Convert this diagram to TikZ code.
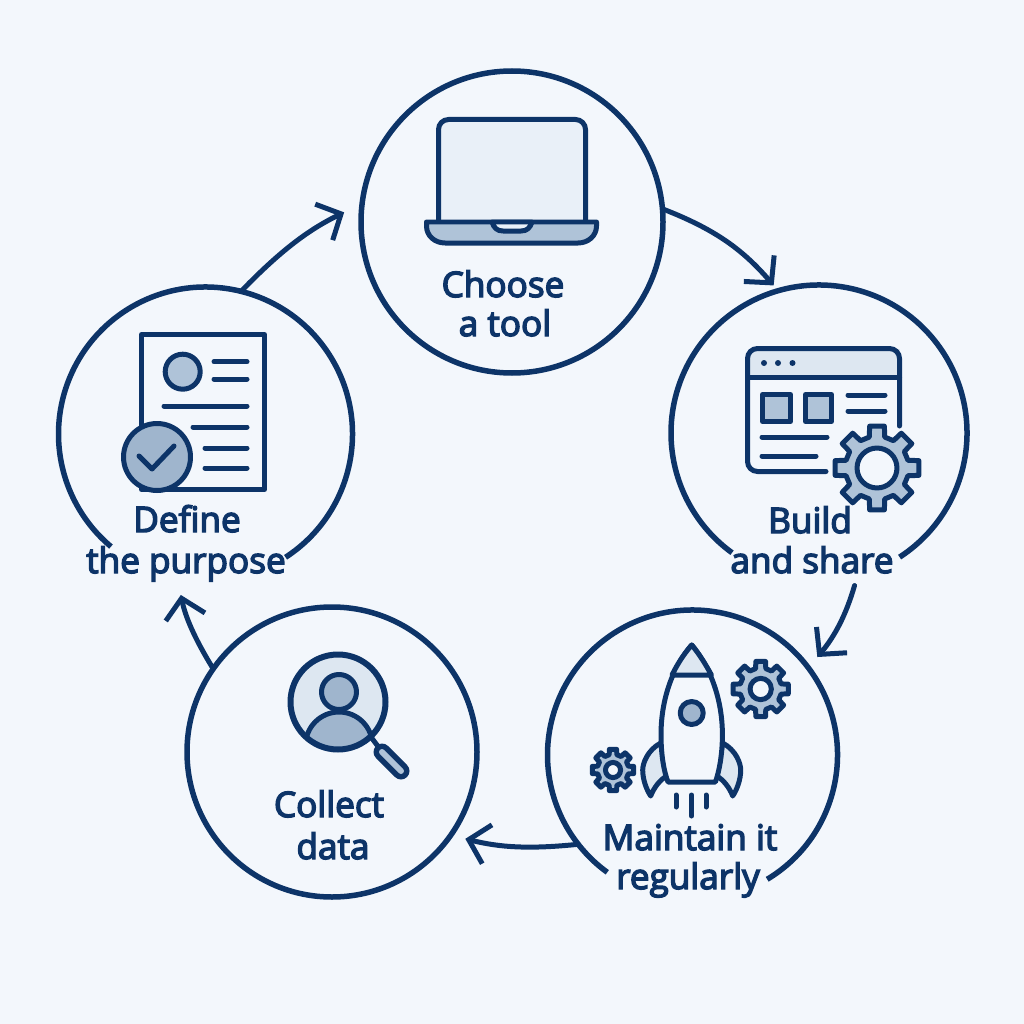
\documentclass[tikz,border=0pt]{standalone}
\usepackage{fontspec}
\setmainfont{Open Sans}[FakeBold=4]
\usetikzlibrary{arrows.meta}

\definecolor{ink}{HTML}{0D3468}
\definecolor{paper}{HTML}{F3F7FC}
\definecolor{midfill}{HTML}{AFC3D8}
\definecolor{palefill}{HTML}{DDE7F1}
\definecolor{screenfill}{HTML}{E9F0F8}

\tikzset{
  ringbase/.style={circle,line width=0.55mm,minimum size=#1,inner sep=0pt,outer sep=0pt},
  ring/.style={ringbase=#1,draw=ink},
  ringarc/.style={draw=ink,line width=0.55mm},
  caption/.style={text=ink,font=\fontsize{10}{12}\selectfont,anchor=base,inner sep=0pt},
  flow/.style={draw=ink,line width=0.5mm,line cap=round,-{Straight Barb[length=1.9mm,width=4mm,line width=0.5mm]}},
  icon/.style={draw=ink,line width=0.5mm,line join=round,line cap=round},
  pics/gearwheel/.style={code={
    \draw[icon,fill=midfill] (-31:.75) \foreach \a in {0,45,...,315} {
      -- (\a-14:.75) -- (\a-10:1) -- (\a+10:1) -- (\a+14:.75)} -- cycle;
    \draw[icon,fill=paper] (0,0) circle (#1);
  }}
}

\begin{document}
\begin{tikzpicture}[x=0.1mm,y=-0.1mm]
\fill[paper] (0,0) rectangle (1024,1024);
\useasboundingbox (0,0) rectangle (1024,1024);

% rings
\node[ring=30.2mm]     (tool)     at (512,222) {};
\node[ringbase=29.6mm] (build)    at (819,433) {};
\node[ringbase=29mm]   (maintain) at (692.5,755) {};
\node[ring=29mm]       (collect)  at (332,752) {};
\node[ringbase=29.4mm] (purpose)  at (205.5,434) {};
\draw[ringarc] (build.-57) arc[start angle=57,end angle=-234,radius=148];
\draw[ringarc] (maintain.-59) arc[start angle=59,end angle=-234,radius=145];
\draw[ringarc] (purpose.-57) arc[start angle=57,end angle=-230,radius=147];

% captions
\node[caption] (tool1) at (503,297) {Choose};
\node[caption] (tool2) at (505,336) {a tool};
\node[caption] (build1) at (810,533) {Build};
\node[caption] (build2) at (812,573) {and share};
\node[caption] (maintain1) at (690,850) {Maintain it};
\node[caption] (maintain2) at (688,889) {regularly};
\node[caption] (collect1) at (329,817) {Collect};
\node[caption] (collect2) at (333,859) {data};
\node[caption] (purpose1) at (187,532) {Define};
\node[caption] (purpose2) at (186,573) {the purpose};

% laptop
\draw[icon,fill=screenfill,rounded corners=1mm] (438.5,222) -- (438.5,119.5) -- (585.5,119.5) -- (585.5,222);
\draw[icon,fill=midfill] (426.5,222) -- (596.5,222) -- (596.5,226) .. controls (596.5,236) and (588,243) .. (578,243)
  -- (445,243) .. controls (435,243) and (426.5,236) .. (426.5,226) -- cycle;
\draw[icon,fill=screenfill] (492,222) .. controls (494,228) and (497,231) .. (503,231) -- (521,231) .. controls (527,231) and (530,228) .. (532,222) -- cycle;

% browser window
\fill[palefill] (747.5,348.5) rectangle (899.5,377);
\draw[icon,rounded corners=1mm] (826,471.5) -- (747.5,471.5) -- (747.5,348.5) -- (899.5,348.5) -- (899.5,426);
\draw[icon] (747.5,377) -- (899.5,377);
\foreach \x in {764,778,792.5} \fill[ink] (\x,363) circle (3);
\draw[icon,fill=midfill] (762.5,394.5) rectangle (790.5,421.5);
\draw[icon,fill=midfill] (805.5,394.5) rectangle (831.5,421.5);
\draw[icon] (848,395) -- (885,395);
\draw[icon] (848,411) -- (885,411);
\draw[icon] (762,437) -- (827,437);
\draw[icon] (762,456) -- (816,456);
\pic[scale=42.5] at (877,468) {gearwheel=.47};

% rocket
\foreach \s in {1,-1}
  \draw[icon,fill=palefill,shift={(691.7,0)},xscale=\s] (-31,743) .. controls (-44,750) and (-49,763) .. (-49,770)
    .. controls (-49,780) and (-45,790) .. (-41,796) .. controls (-38,788) and (-32,780) .. (-25,776) -- cycle;
\draw[icon,fill=paper] (691.7,645) .. controls (672,668) and (661,700) .. (661,735) .. controls (661,755) and (664,772) .. (668,782)
  -- (715.4,782) .. controls (719,772) and (722.4,755) .. (722.4,735) .. controls (722.4,700) and (711,668) .. (691.7,645) -- cycle;
\draw[icon,fill=palefill] (691.7,645) .. controls (683,655) and (677,665) .. (672,675) -- (711.4,675) .. controls (706,665) and (700,655) .. (691.7,645) -- cycle;
\draw[icon,fill=midfill!90!ink] (691.7,713) circle (11.5);
\draw[icon] (676,795) -- (676,807);
\draw[icon] (691.5,795) -- (691.5,816);
\draw[icon] (706,795) -- (706,807);
\pic[scale=28] at (760.7,689) {gearwheel=.38};
\pic[scale=21] at (613,770) {gearwheel=.36};

% magnifier
\fill[palefill] (338,702) circle (47.5);
\begin{scope}
\clip (338,702) circle (47.5);
\draw[icon,fill=midfill!90!ink] (339,745.5) circle (33.5);
\end{scope}
\draw[icon,fill=midfill!90!ink] (339,692) circle (17.5);
\draw[draw=ink,line width=0.6mm] (338,702) circle (47.5);
\draw[draw=ink,line width=0.5mm] (371,737) -- (380,749);
\draw[draw=ink,line width=1.7mm,line cap=round] (382,752) -- (401,771);
\draw[draw=midfill,line width=0.6mm,line cap=round] (382,752) -- (401,771);

% page with check
\draw[icon,fill=paper] (141.5,334.5) rectangle (264.5,489.5);
\draw[icon,fill=midfill] (182.7,371.7) circle (17.5);
\draw[icon] (214,361.7) -- (247,361.7);
\draw[icon] (214,379) -- (247,379);
\draw[icon] (164,406) -- (247,406);
\draw[icon] (193,427) -- (247,427);
\draw[icon] (205,448) -- (247,448);
\draw[icon] (205,468) -- (247,468);
\draw[icon,fill=midfill!90!ink] (157,457) circle (33.5);
\draw[icon] (139,456) -- (152,469) -- (174,446);

% arrows
\draw[flow,shorten >=0.7mm] (tool.5.5) to[bend left=14] (build.106);
\draw[flow,shorten <=1mm,shorten >=1.4mm] (build.-75) to[bend left=12] (maintain.37);
\draw[flow,shorten >=1.5mm] (maintain.218.8) to[bend left=10] (collect.-35);
\draw[flow,shorten >=1.7mm] (collect.145) to[bend left=10] (purpose.-101.4);
\draw[flow,shorten >=2mm] (purpose.76.3) to[bend left=10] (tool.173);
\end{tikzpicture}
\end{document}
